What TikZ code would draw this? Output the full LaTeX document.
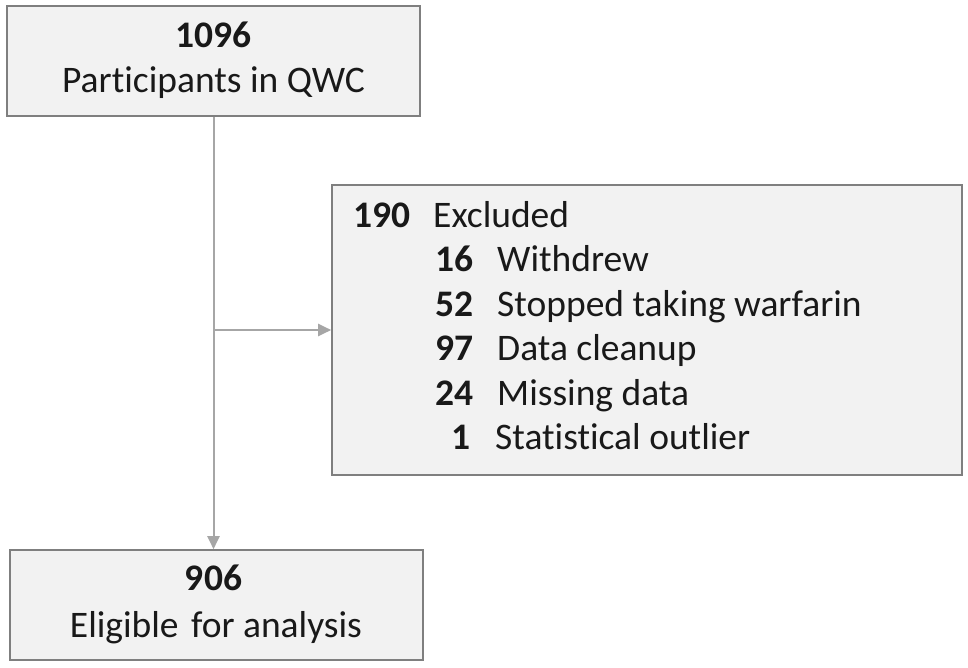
\documentclass[tikz,border=0pt]{standalone}
\usepackage{fontspec}
\setmainfont{Carlito}[Ligatures={NoCommon,NoContextual}]
\usetikzlibrary{arrows.meta}
\definecolor{boxfill}{HTML}{F2F2F2}
\definecolor{boxdraw}{HTML}{7F7F7F}
\definecolor{linkcol}{HTML}{A6A6A6}
\tikzset{
  x=1pt, y=-1pt,
  box/.style={draw=boxdraw, line width=1.6pt, fill=boxfill, inner sep=0pt},
  txt/.style={inner sep=0pt, font=\fontsize{37.5}{45}\selectfont, text=black!90},
  btxt/.style={txt, font=\fontsize{37.5}{45}\selectfont\bfseries},
  link/.style={draw=linkcol, line width=2pt},
  arr/.style={link, -{Triangle[length=13pt,width=12pt]}}
}
\begin{document}
\begin{tikzpicture}
\useasboundingbox (0,0) rectangle (968,667);
% boxes
\node[box, minimum width=413pt, minimum height=110pt] (top) at (213.5,61) {};
\node[box, minimum width=413pt, minimum height=110pt] (bot) at (216.5,605) {};
\node[box, minimum width=630pt, minimum height=290pt] (excl) at (647,330) {};
% top text
\node[btxt, anchor=base] (t1) at (213.5,47) {1096};
\node[txt, anchor=base] (t2) at (213.5,92) {Participants in QWC};
% bottom text
\node[btxt, anchor=base] (b1) at (213.5,590) {906};
\node[txt, anchor=base] (b2) at (216,637) {Eligible\hspace{4pt} for analysis};
% excluded text
\node[btxt, anchor=base west] (e0n) at (353,227) {190};
\node[txt, anchor=base west] (e0t) at (433,227) {Excluded};
\node[btxt, anchor=base east] (e1n) at (474,271.5) {16};
\node[txt, anchor=base west] (e1t) at (497,271.5) {Withdrew};
\node[btxt, anchor=base east] (e2n) at (474,316) {52};
\node[txt, anchor=base west] (e2t) at (497,316) {Stopped taking warfarin};
\node[btxt, anchor=base east] (e3n) at (474,360.5) {97};
\node[txt, anchor=base west] (e3t) at (497,360.5) {Data cleanup};
\node[btxt, anchor=base east] (e4n) at (474,405) {24};
\node[txt, anchor=base west] (e4t) at (497,405) {Missing data};
\node[btxt, anchor=base east] (e5n) at (471,449.5) {1};
\node[txt, anchor=base west] (e5t) at (495,449.5) {Statistical outlier};
% connectors
\coordinate (br) at (top.south |- excl.west);
\draw[arr] (top.south) -- (top.south |- bot.north);
\draw[arr] (br) -- (excl.west);
\end{tikzpicture}
\end{document}
